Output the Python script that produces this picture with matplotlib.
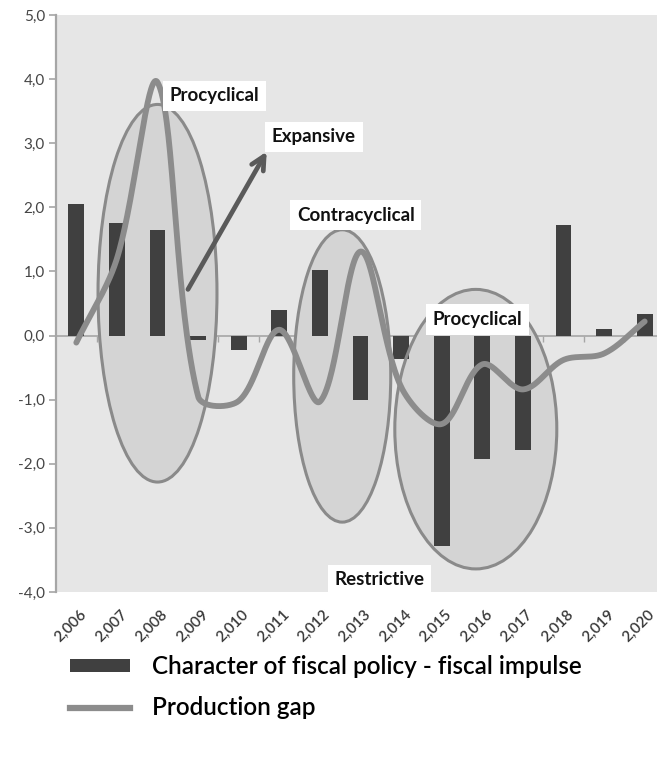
import numpy as np
import matplotlib
matplotlib.use("Agg")
import matplotlib.pyplot as plt
import matplotlib.transforms as mtransforms
from matplotlib.patches import Ellipse, Patch
from matplotlib.lines import Line2D

# ---- data -------------------------------------------------------------
years = ['2,006', '2,007', '2,008', '2,009', '2,010', '2,011', '2,012', '2,013',
         '2,014', '2,015', '2,016', '2,017', '2,018', '2,019', '2,020']
fiscal_impulse = [2.05, 1.76, 1.64, -0.07, -0.22, 0.40, 1.03, -1.01,
                  -0.36, -3.29, -1.92, -1.79, 1.73, 0.10, 0.34]
production_gap = [-0.11, 1.20, 3.95, -0.95, -1.02, 0.09, -1.03, 1.31,
                  -0.80, -1.38, -0.45, -0.84, -0.38, -0.28, 0.22]
y_ticks = [-4, -3, -2, -1, 0, 1, 2, 3, 4, 5]
y_tick_labels = ['-4,0', '-3,0', '-2,0', '-1,0', '0,0', '1,0', '2,0', '3,0', '4,0', '5,0']
series_names = ['Character of fiscal policy - fiscal impulse', 'Production gap']

# highlighted phases: (centre x, centre y, width, height)
phase_ellipses = [(2.0, 0.66, 2.93, 5.89),
                  (6.55, -0.63, 2.39, 4.56),
                  (9.84, -1.46, 3.99, 4.36)]
phase_labels = [('Procyclical', 2.30, 3.74),
                ('Expansive', 4.82, 3.10),
                ('Contracyclical', 5.43, 1.88),
                ('Procyclical', 8.78, 0.25),
                ('Restrictive', 6.37, -3.81)]

plt.rcParams['font.family'] = ['Lato', 'DejaVu Sans']

BAR = '#404040'
LINE = '#8c8c8c'
BG = '#e6e6e6'
AXIS = '#a6a6a6'


def smooth(ax, values, samples=60):
    """Bezier smoothing through every point; tangents are split in proportion
    to the on-screen length of the neighbouring segments."""
    pts = ax.transData.transform(np.column_stack([np.arange(len(values)), values]))
    n = len(pts)
    seg = np.hypot(*np.diff(pts, axis=0).T)
    out_ctrl = np.zeros_like(pts)
    in_ctrl = np.zeros_like(pts)
    for i in range(n):
        prev = pts[i - 1] if i > 0 else pts[i]
        nxt = pts[i + 1] if i < n - 1 else pts[i]
        tan = nxt - prev
        d_prev = seg[i - 1] if i > 0 else 0.0
        d_next = seg[i] if i < n - 1 else 0.0
        total = d_prev + d_next
        out_ctrl[i] = pts[i] + tan * (d_next / total) / 3
        in_ctrl[i] = pts[i] - tan * (d_prev / total) / 3
    t = np.linspace(0, 1, samples)[:, None]
    curve = []
    for i in range(n - 1):
        p0, c1, c2, p3 = pts[i], out_ctrl[i], in_ctrl[i + 1], pts[i + 1]
        b = ((1 - t) ** 3 * p0 + 3 * (1 - t) ** 2 * t * c1
             + 3 * (1 - t) * t ** 2 * c2 + t ** 3 * p3)
        curve.append(b if i == 0 else b[1:])
    curve = ax.transData.inverted().transform(np.vstack(curve))
    return curve[:, 0], curve[:, 1]


fig = plt.figure(figsize=(6.57, 7.78), dpi=100)
ax = fig.add_axes([56 / 657, 1 - 592 / 778, 609 / 657, 577 / 778])
ax.set_facecolor(BG)

x = np.arange(len(years))
ax.set_xlim(-0.5, len(years) - 0.5)
ax.set_ylim(-4, 5)

# shaded phase ellipses
for cx, cy, w, h in phase_ellipses:
    ax.add_patch(Ellipse((cx, cy), w, h, facecolor='#d4d4d4', edgecolor='none', zorder=1))
    ax.add_patch(Ellipse((cx, cy), w, h, facecolor='none', edgecolor='#8a8a8a',
                         linewidth=2.2, zorder=2.5))

ax.bar(x, fiscal_impulse, width=0.39, color=BAR, zorder=2)

sx, sy = smooth(ax, production_gap)
ax.plot(sx, sy, color=LINE, linewidth=4.2, solid_capstyle='round', zorder=3)

# y axis
ax.set_yticks(y_ticks)
ax.set_yticklabels(y_tick_labels, fontsize=11, color='#454545')
ax.tick_params(axis='y', length=5, width=1.2, color=AXIS, pad=3)
ax.spines['left'].set_color(AXIS)
ax.spines['left'].set_linewidth(1.6)
for s in ('top', 'right', 'bottom'):
    ax.spines[s].set_visible(False)

# category labels along the bottom
ax.set_xticks(x)
ax.set_xticklabels(years, rotation=45, ha='right', va='top',
                   rotation_mode='anchor', fontsize=11, fontweight='semibold',
                   color='#3a3a3a')
ax.tick_params(axis='x', length=0, pad=11)
shift = mtransforms.ScaledTranslation(3 / 100, 0, fig.dpi_scale_trans)
for lbl in ax.get_xticklabels():
    lbl.set_transform(lbl.get_transform() + shift)

# zero line with category separators
zero_pos = (0 - (-4)) / (5 - (-4))
zero_axis = ax.secondary_xaxis(zero_pos)
zero_axis.set_xticks(np.arange(0.5, len(years) - 0.5, 1.0))
zero_axis.set_xticklabels([])
zero_axis.tick_params(axis='x', length=4, width=1, color=AXIS, direction='out')
zero_axis.spines['bottom'].set_color(AXIS)
zero_axis.spines['bottom'].set_linewidth(1.2)

# arrow
ax.annotate('', xy=(4.69, 2.87), xytext=(2.75, 0.72),
            arrowprops=dict(arrowstyle='->', color='#5a5a5a', lw=3.4,
                            mutation_scale=24, shrinkA=0, shrinkB=0),
            zorder=4)

# phase labels
for text, tx, ty in phase_labels:
    ax.text(tx, ty, text, fontsize=13.5, fontweight='bold', color='#111111',
            ha='left', va='center', zorder=5,
            bbox=dict(boxstyle='square,pad=0.35', facecolor='white', edgecolor='none'))

# legend
handles = [Patch(facecolor=BAR, edgecolor='none'),
           Line2D([], [], color=LINE, linewidth=4.5)]
fig.legend(handles, series_names, loc='upper left',
           bbox_to_anchor=(70 / 657, 1 - 655 / 778), frameon=False,
           prop=dict(size=17.5, weight='semibold'),
           handlelength=2.47, handleheight=0.42, handletextpad=0.9,
           labelspacing=0.75, borderpad=0, borderaxespad=0)

fig.savefig('out.png', dpi=100)
